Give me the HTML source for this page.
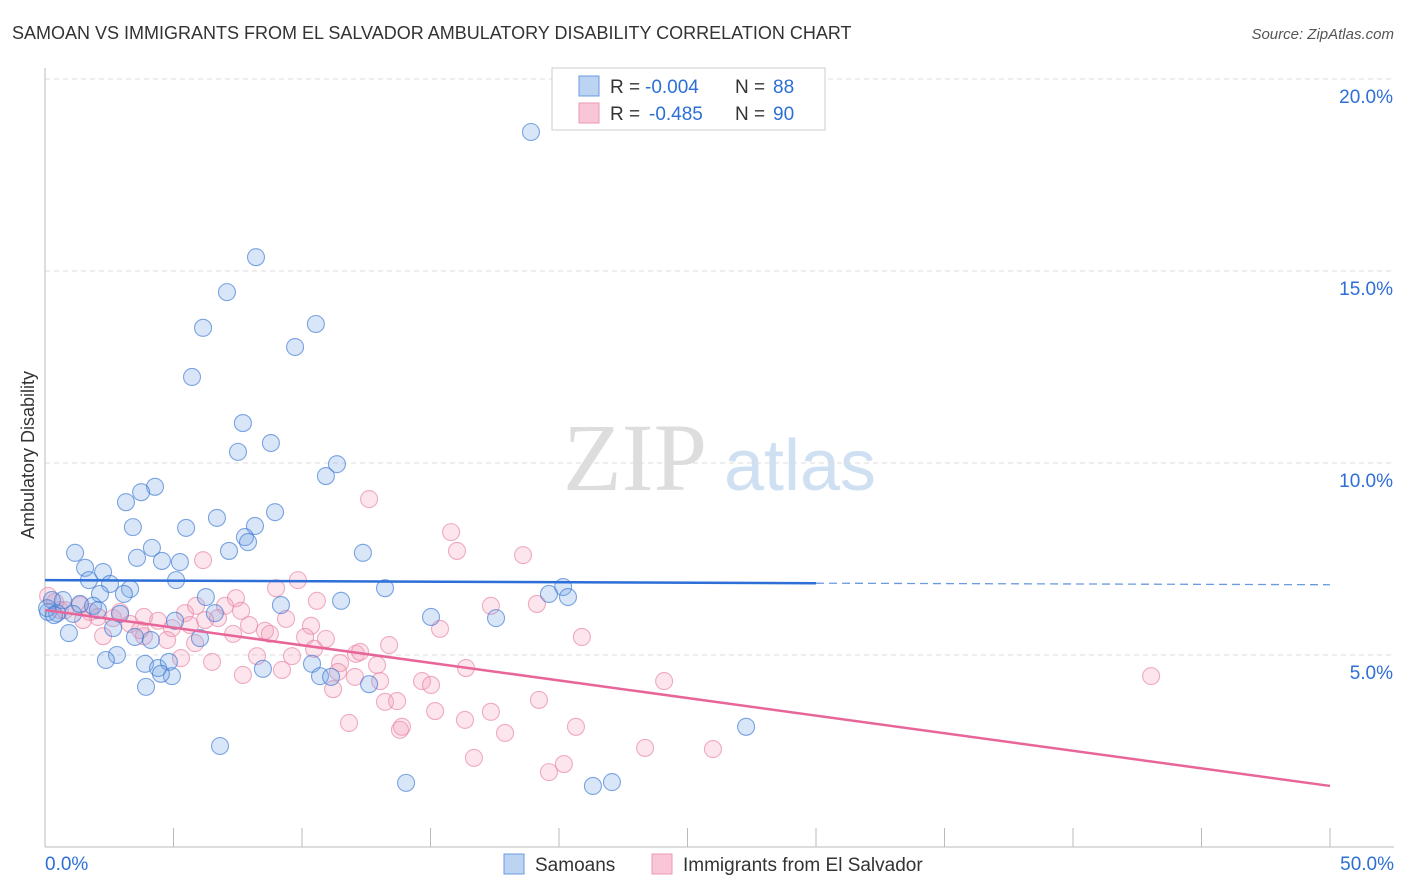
<!DOCTYPE html>
<html><head><meta charset="utf-8"><style>
body{margin:0;background:#fff;font-family:"Liberation Sans",sans-serif;}
svg{display:block}
</style></head><body>
<svg id="c" width="1406" height="892">
<text x="12" y="39" font-size="18" fill="#333">SAMOAN VS IMMIGRANTS FROM EL SALVADOR AMBULATORY DISABILITY CORRELATION CHART</text>
<text x="1394" y="39" font-size="15" fill="#555" font-style="italic" text-anchor="end">Source: ZipAtlas.com</text>
<text x="34" y="455" font-size="18" fill="#333" text-anchor="middle" transform="rotate(-90 34 455)">Ambulatory Disability</text>
<g><text x="635" y="490" font-size="96" fill="#ddd" font-family="Liberation Serif" text-anchor="middle">ZIP</text><text x="800" y="490" font-size="72" fill="#cfe0f3" text-anchor="middle">atlas</text></g>
<g id="grid"></g><g id="ax"></g><g id="pts"></g><g id="trend"></g>
<g>
<rect x="552" y="68" width="273" height="62" fill="#fff" stroke="#ccc"/>
<rect x="579" y="76" width="20" height="20" fill="#bcd3f2" stroke="#6a9be0"/>
<g font-size="19"><text x="610" y="93" fill="#333">R =</text><text x="645" y="93" fill="#2d6fd6">-0.004</text><text x="735" y="93" fill="#333">N =</text><text x="773" y="93" fill="#2d6fd6">88</text></g>
<rect x="579" y="103" width="20" height="20" fill="#f8c6d6" stroke="#ec9ab5"/>
<g font-size="19"><text x="610" y="120" fill="#333">R =</text><text x="649" y="120" fill="#2d6fd6">-0.485</text><text x="735" y="120" fill="#333">N =</text><text x="773" y="120" fill="#2d6fd6">90</text></g>
</g>
<g>
<rect x="504" y="854" width="20" height="20" fill="#bcd3f2" stroke="#6a9be0"/>
<text x="535" y="871" font-size="19" fill="#333">Samoans</text>
<rect x="652" y="854" width="20" height="20" fill="#f8c6d6" stroke="#ec9ab5"/>
<text x="683" y="871" font-size="19" fill="#333">Immigrants from El Salvador</text>
</g>
</svg>
<script>
const yTicks=[5,10,15,20];
const xTickLabels=["0.0%","50.0%"];
const blueX=[18.91,8.21,7.08,6.15,10.54,9.73,5.72,7.70,7.51,8.79,11.36,10.93,4.28,3.74,3.15,6.69,8.95,3.42,5.49,8.17,7.78,7.90,4.16,1.17,3.58,7.16,12.37,4.55,5.25,1.56,2.26,1.71,5.10,2.53,13.23,3.31,20.16,19.61,20.35,2.14,3.07,6.26,11.52,9.18,0.27,0.70,1.36,1.87,2.06,0.12,0.47,2.92,1.09,15.02,17.55,5.06,6.61,0.93,2.65,3.50,4.12,6.03,2.80,2.37,3.89,4.40,4.82,4.94,4.51,10.39,8.48,10.70,11.13,3.93,12.61,27.28,6.81,14.05,21.32,22.06,0.08,0.35];
const blueY=[18.62,15.36,14.45,13.52,13.62,13.02,12.24,11.04,10.29,10.52,9.97,9.66,9.38,9.24,8.98,8.57,8.72,8.33,8.31,8.36,8.07,7.94,7.79,7.66,7.53,7.71,7.66,7.45,7.42,7.27,7.16,6.95,6.95,6.85,6.74,6.72,6.77,6.59,6.51,6.59,6.59,6.51,6.41,6.30,6.43,6.43,6.33,6.28,6.17,6.12,6.09,6.07,6.07,5.99,5.96,5.89,6.09,5.57,5.70,5.47,5.39,5.44,5.00,4.87,4.77,4.66,4.82,4.45,4.51,4.77,4.64,4.45,4.43,4.17,4.24,3.13,2.63,1.67,1.59,1.69,6.22,6.04];
const pinkX=[12.61,15.80,16.03,18.60,6.15,9.84,7.43,10.58,17.35,19.14,8.99,7.00,0.58,1.75,2.65,3.85,4.40,5.45,5.88,6.73,7.94,8.56,9.38,10.35,3.31,4.94,7.32,8.75,10.12,10.93,12.10,13.39,15.37,20.89,12.26,8.25,9.61,6.50,5.29,2.26,3.85,5.84,7.70,9.22,11.48,11.40,12.06,12.92,13.04,14.67,15.02,16.38,24.09,43.04,11.21,13.23,13.70,19.22,17.35,15.18,11.83,16.34,20.66,13.89,17.90,23.35,25.99,16.69,19.61,20.19,0.12,0.39,0.78,1.36,2.06,1.48,2.92,3.70,4.75,6.23,5.64,7.63,10.47,13.81];
const pinkY=[9.06,8.20,7.71,7.60,7.47,6.95,6.48,6.41,6.28,6.33,6.74,6.28,6.17,6.12,5.96,5.99,5.89,6.09,6.28,5.96,5.78,5.63,5.94,5.76,5.81,5.70,5.55,5.55,5.47,5.42,5.03,5.26,5.68,5.47,5.08,4.97,4.97,4.82,4.92,5.49,5.49,5.31,4.48,4.61,4.79,4.56,4.43,4.74,4.32,4.32,4.22,4.66,4.32,4.45,4.11,3.78,3.80,3.83,3.52,3.54,3.23,3.31,3.13,3.13,2.97,2.58,2.55,2.32,1.95,2.16,6.54,6.38,6.17,6.30,5.99,5.91,6.12,5.65,5.39,5.91,5.78,6.15,5.16,3.05];
const blueTrend=[6.95,6.87,6.83];
const pinkTrend=[6.17,1.59];
const NS='http://www.w3.org/2000/svg';
const X=v=>45+v*25.7, Y=v=>847-v*38.4;
function mk(p,t,a){const e=document.createElementNS(NS,t);for(const k in a)e.setAttribute(k,a[k]);document.getElementById(p).appendChild(e);return e;}
yTicks.forEach(t=>{
 const l=mk('grid','line',{x1:45,x2:1394,y1:Y(t),y2:Y(t),stroke:'#ddd','stroke-dasharray':'5,4'});
 
 
 const tx=mk('ax','text',{x:1393,y:Y(t)+24,'font-size':19,fill:'#2d6fd6','text-anchor':'end'});
 tx.textContent=t.toFixed(1)+'%';
 
 
});
const ya=mk('ax','line',{x1:45,x2:45,y1:68,y2:847,stroke:'#bbb'});


const xa=mk('ax','line',{x1:45,x2:1394,y1:847,y2:847,stroke:'#bbb'});


for(let v=0;v<=50;v+=5){
 const t=mk('ax','line',{x1:X(v),x2:X(v),y1:828,y2:847,stroke:'#bbb'});
 
 
}
[[0,'start',45],[50,'end',1394]].forEach((d,i)=>{
 const tx=mk('ax','text',{x:d[2],y:870,'font-size':19,fill:'#2d6fd6','text-anchor':d[1]});
 tx.textContent=xTickLabels[i];
 
 
});
function pts(xs,ys,fill,stroke,name){xs.forEach((x,i)=>{
 const c=mk('pts','circle',{cx:X(x),cy:Y(ys[i]),r:8.5,fill:fill,stroke:stroke,'stroke-width':1.1});
 
 
});}
pts(pinkX,pinkY,'rgba(243,160,188,0.28)','rgba(232,130,165,0.65)','salvador-point');
pts(blueX,blueY,'rgba(120,165,230,0.28)','rgba(60,120,210,0.65)','samoan-point');
const b1=mk('trend','line',{x1:X(0),y1:Y(blueTrend[0]),x2:X(30),y2:Y(blueTrend[1]),stroke:'#2d6fd6','stroke-width':2.5});


const b2=mk('trend','line',{x1:X(30),y1:Y(blueTrend[1]),x2:X(50),y2:Y(blueTrend[2]),stroke:'#6a9be0','stroke-width':1.3,'stroke-dasharray':'8,5'});


const p1=mk('trend','line',{x1:X(0),y1:Y(pinkTrend[0]),x2:X(50),y2:Y(pinkTrend[1]),stroke:'#e8659a','stroke-width':2.5});


</script>
</body></html>
